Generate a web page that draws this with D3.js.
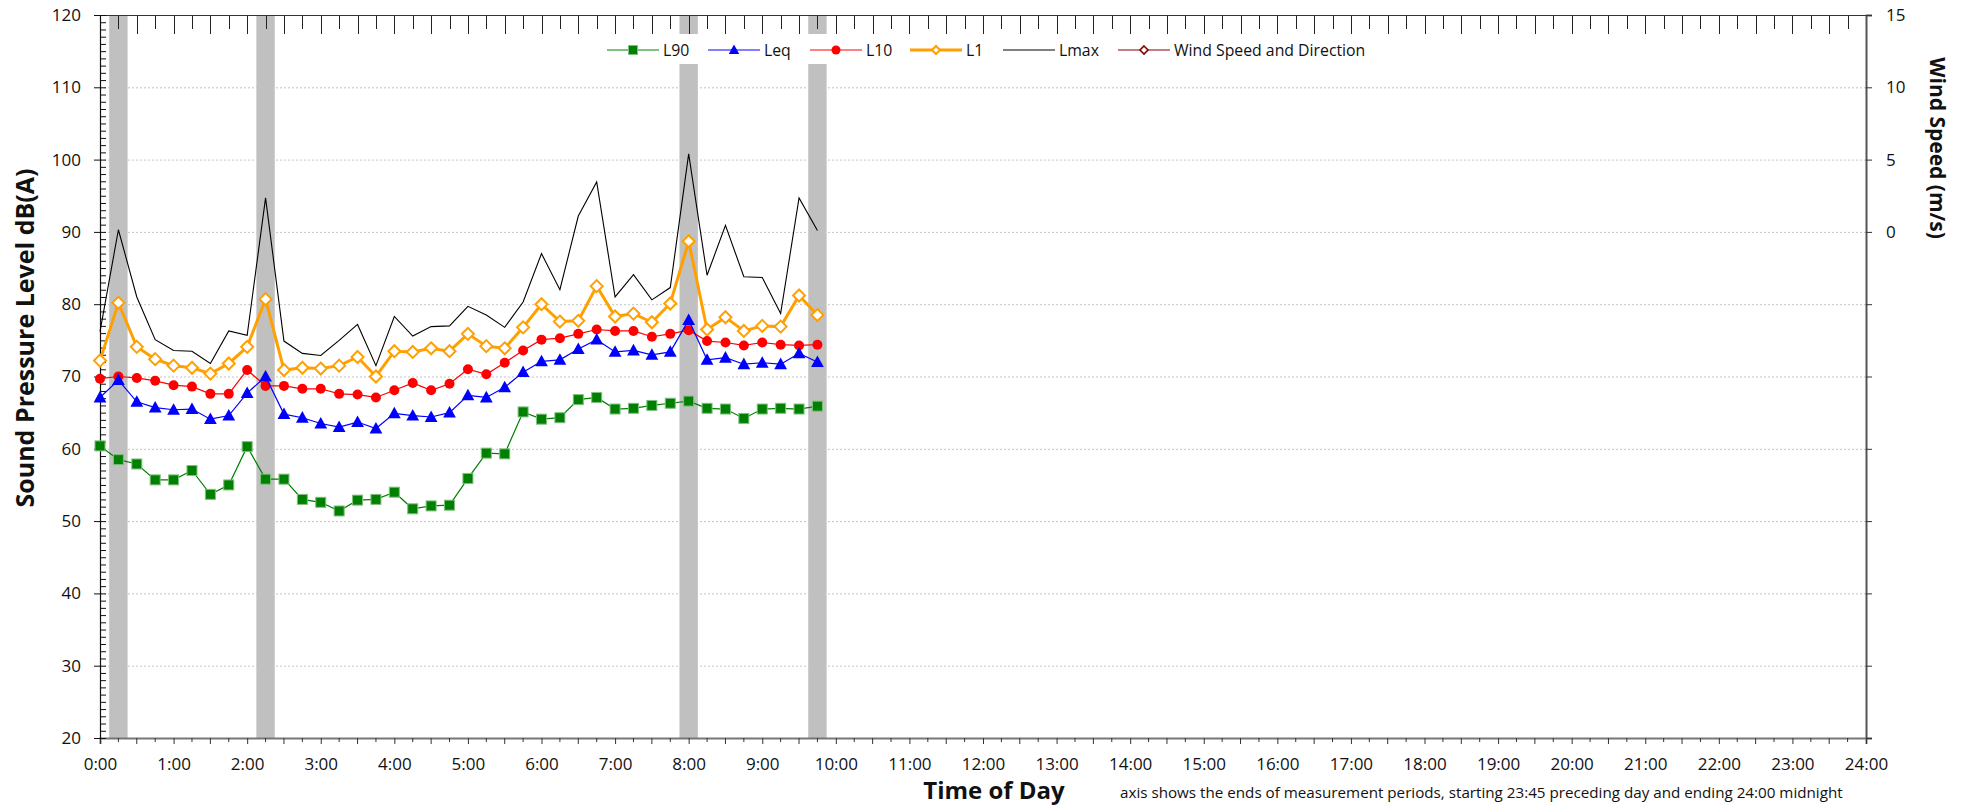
<!DOCTYPE html>
<html>
<head>
<meta charset="utf-8">
<script src="https://cdn.jsdelivr.net/npm/d3@7"></script>
<style>
  html, body { margin: 0; padding: 0; background: #fff; }
  svg { display: block; font-family: "Open Sans", "Noto Sans", sans-serif; }
</style>
</head>
<body>
<svg id="chart" width="1969" height="808"></svg>
<script>
// Measurement period end times (15-minute intervals)
const times = ["0:00","0:15","0:30","0:45","1:00","1:15","1:30","1:45","2:00","2:15",
  "2:30","2:45","3:00","3:15","3:30","3:45","4:00","4:15","4:30","4:45",
  "5:00","5:15","5:30","5:45","6:00","6:15","6:30","6:45","7:00","7:15",
  "7:30","7:45","8:00","8:15","8:30","8:45","9:00","9:15","9:30","9:45"];

// Sound pressure levels, dB(A)
const L90 = [60.4,58.5,57.9,55.7,55.7,57.0,53.7,55.0,60.3,55.8,
  55.8,53.0,52.6,51.4,52.9,53.0,54.0,51.7,52.1,52.2,
  55.9,59.4,59.3,65.1,64.1,64.3,66.8,67.1,65.5,65.6,
  66.0,66.3,66.6,65.6,65.5,64.2,65.5,65.6,65.5,65.9];
const Leq = [67.1,69.5,66.5,65.7,65.4,65.5,64.1,64.6,67.7,70.0,
  64.8,64.3,63.5,63.0,63.7,62.8,64.9,64.6,64.4,65.0,
  67.4,67.1,68.5,70.6,72.1,72.3,73.8,75.1,73.4,73.6,
  73.0,73.4,77.8,72.3,72.6,71.7,71.9,71.7,73.2,72.0];
const L10 = [69.7,70.0,69.8,69.4,68.8,68.6,67.6,67.6,70.9,68.7,
  68.7,68.3,68.3,67.6,67.5,67.1,68.1,69.1,68.1,69.0,
  71.0,70.3,71.9,73.6,75.1,75.3,75.9,76.5,76.3,76.3,
  75.5,75.9,76.4,74.9,74.7,74.3,74.7,74.4,74.3,74.4];
const L1 = [72.2,80.2,74.1,72.4,71.5,71.2,70.4,71.8,74.1,80.7,
  70.9,71.2,71.1,71.5,72.7,70.0,73.5,73.4,73.9,73.5,
  75.9,74.2,73.9,76.8,80.0,77.6,77.7,82.5,78.3,78.7,
  77.5,80.1,88.7,76.5,78.2,76.3,77.0,76.9,81.2,78.5];
const Lmax = [76.2,90.3,81.0,75.1,73.6,73.5,71.8,76.3,75.7,94.7,
  74.9,73.2,72.9,75.0,77.2,71.5,78.3,75.6,76.9,77.0,
  79.7,78.5,76.8,80.3,87.0,82.0,92.2,96.9,81.0,84.1,
  80.6,82.3,100.8,84.0,90.9,83.8,83.7,78.7,94.7,90.2];

// Periods flagged with grey shading
const flaggedTimes = ["0:15","2:15","8:00","9:45"];

// Axis tick values
const hourTicks = ["0:00","1:00","2:00","3:00","4:00","5:00","6:00","7:00","8:00","9:00",
  "10:00","11:00","12:00","13:00","14:00","15:00","16:00","17:00","18:00","19:00",
  "20:00","21:00","22:00","23:00","24:00"];
const splTicks = [20,30,40,50,60,70,80,90,100,110,120];
const windTicks = [-35,-30,-25,-20,-15,-10,-5,0,5,10,15];

const legendNames = ["L90","Leq","L10","L1","Lmax","Wind Speed and Direction"];

// ---------------------------------------------------------------
const toHours = s => { const [h, m] = s.split(":").map(Number); return h + m / 60; };

const svg = d3.select("#chart");
const plotLeft = 100, plotRight = 1866, plotTop = 15, plotBottom = 738;

const x = d3.scaleLinear().domain([0, 24]).range([plotLeft, plotRight]);
const y = d3.scaleLinear().domain([20, 120]).range([plotBottom, plotTop]);
const y2 = d3.scaleLinear().domain([-35, 15]).range([plotBottom, plotTop]);

// Shaded periods (centered on the period end, 15 min wide)
svg.append("g").selectAll("rect").data(flaggedTimes).join("rect")
  .attr("x", d => x(toHours(d) - 0.125))
  .attr("width", d => x(toHours(d) + 0.125) - x(toHours(d) - 0.125))
  .attr("y", plotTop).attr("height", plotBottom - plotTop)
  .attr("fill", "#c0c0c0");

// Horizontal gridlines
svg.append("g").selectAll("line").data(splTicks.filter(v => v > 20 && v < 120)).join("line")
  .attr("x1", plotLeft).attr("x2", plotRight)
  .attr("y1", d => y(d) + 0.5).attr("y2", d => y(d) + 0.5)
  .attr("stroke", "#c4c4c4").attr("stroke-width", 1).attr("stroke-dasharray", "2,2");

// Top frame ticks: every 15 min, longer at half hours
const quarterTicks = d3.range(0, 24.001, 0.25);
const isHalf = d => Math.abs(d * 2 - Math.round(d * 2)) < 1e-6;
svg.append("g").selectAll("line").data(quarterTicks.filter(h => h > 0 && h < 24)).join("line")
  .attr("x1", d => Math.round(x(d)) + 0.5).attr("x2", d => Math.round(x(d)) + 0.5)
  .attr("y1", plotTop).attr("y2", d => plotTop + (isHalf(d) ? 19 : 14))
  .attr("stroke", "#222").attr("stroke-width", 1);

// Top frame line
svg.append("line").attr("x1", plotLeft).attr("x2", plotRight)
  .attr("y1", plotTop + 0.5).attr("y2", plotTop + 0.5)
  .attr("stroke", "#333").attr("stroke-width", 1.2);

// Bottom axis
const xAxis = d3.axisBottom(x)
  .tickValues(hourTicks.map(toHours))
  .tickFormat((d, i) => hourTicks[i])
  .tickSize(6).tickPadding(14);
const gx = svg.append("g").attr("transform", `translate(0,${plotBottom})`).call(xAxis);
gx.select(".domain").attr("stroke", "#777").attr("stroke-width", 2);
gx.selectAll(".tick line").attr("stroke", "#333");
gx.selectAll("text").attr("font-size", 17).attr("fill", "#111")
  .attr("font-family", "'Open Sans', sans-serif");
// minor quarter-hour ticks on bottom axis
svg.append("g").selectAll("line").data(quarterTicks.filter(h => Math.abs(h - Math.round(h)) > 1e-6)).join("line")
  .attr("x1", d => x(d)).attr("x2", d => x(d))
  .attr("y1", plotBottom).attr("y2", d => plotBottom + (isHalf(d) ? 6 : 4))
  .attr("stroke", "#333");

// Left axis
const yAxis = d3.axisLeft(y).tickValues(splTicks).tickSize(6).tickPadding(13);
const gy = svg.append("g").attr("transform", `translate(${plotLeft},0)`).call(yAxis);
gy.select(".domain").attr("stroke", "#111").attr("stroke-width", 1.2);
gy.selectAll(".tick line").attr("stroke", "#111").attr("x2", -6).attr("x1", 6);
gy.selectAll("text").attr("font-size", 17).attr("fill", "#111")
  .attr("font-family", "'Open Sans', sans-serif");
// minor 1 dB ticks pointing inward
svg.append("g").selectAll("line").data(d3.range(21, 120).filter(v => v % 10 !== 0)).join("line")
  .attr("x1", plotLeft).attr("x2", plotLeft + 6)
  .attr("y1", d => y(d) + 0.5).attr("y2", d => y(d) + 0.5)
  .attr("stroke", "#111");

// Right (wind speed) axis
const yAxis2 = d3.axisRight(y2).tickValues(windTicks)
  .tickFormat(d => d >= 0 ? d : "").tickSize(6).tickPadding(14);
const gy2 = svg.append("g").attr("transform", `translate(${plotRight},0)`).call(yAxis2);
gy2.select(".domain").attr("stroke", "#555").attr("stroke-width", 2);
gy2.selectAll(".tick line").attr("stroke", "#333");
gy2.selectAll("text").attr("font-size", 17).attr("fill", "#111")
  .attr("font-family", "'Open Sans', sans-serif");

// Series definitions
const series = [
  { name: "L90", values: L90, color: "#008000", width: 1.2, marker: "square" },
  { name: "Leq", values: Leq, color: "#0000ff", width: 1.2, marker: "triangle" },
  { name: "L10", values: L10, color: "#ff0000", width: 1.2, marker: "circle" },
  { name: "L1", values: L1, color: "#ffa000", width: 3, marker: "diamond" },
  { name: "Lmax", values: Lmax, color: "#000000", width: 1.1, marker: null }
];

const line = d3.line().x(d => x(d.t)).y(d => y(d.v));

function drawMarker(sel, kind, color, size) {
  if (kind === "square") {
    sel.append("rect").attr("x", -size / 2).attr("y", -size / 2)
      .attr("width", size).attr("height", size)
      .attr("fill", color).attr("stroke", "#7fbf7f").attr("stroke-width", 1);
  } else if (kind === "triangle") {
    const h = size;
    sel.append("path").attr("d", `M0,${-h * 0.6}L${h * 0.58},${h * 0.45}L${-h * 0.58},${h * 0.45}Z`)
      .attr("fill", color);
  } else if (kind === "circle") {
    sel.append("circle").attr("r", size / 2).attr("fill", color);
  } else if (kind === "diamond") {
    const r = size / 2;
    sel.append("path").attr("d", `M0,${-r}L${r},0L0,${r}L${-r},0Z`)
      .attr("fill", "#fff").attr("stroke", color).attr("stroke-width", 2);
  } else if (kind === "diamondRed") {
    const r = size / 2;
    sel.append("path").attr("d", `M0,${-r}L${r},0L0,${r}L${-r},0Z`)
      .attr("fill", "#fff").attr("stroke", color).attr("stroke-width", 1.6);
  }
}

const markerSize = { square: 10, triangle: 11, circle: 10, diamond: 12 };

// Draw order: Lmax underneath, then L1, L10, Leq, L90
[4, 3, 2, 1, 0].forEach(i => {
  const s = series[i];
  const pts = s.values.map((v, j) => ({ t: toHours(times[j]), v }));
  const g = svg.append("g");
  g.append("path").datum(pts).attr("d", line)
    .attr("fill", "none").attr("stroke", s.color).attr("stroke-width", s.width)
    .attr("stroke-linejoin", "miter");
  if (s.marker) {
    g.selectAll("g").data(pts).join("g")
      .attr("transform", d => `translate(${x(d.t)},${y(d.v)})`)
      .each(function () { drawMarker(d3.select(this), s.marker, s.color, markerSize[s.marker]); });
  }
});

// Legend
const legendItems = [
  { name: legendNames[0], color: "#008000", lineColor: "#80c080", marker: "square", w: 2 },
  { name: legendNames[1], color: "#0000ff", lineColor: "#8080ff", marker: "triangle", w: 2 },
  { name: legendNames[2], color: "#ff0000", lineColor: "#ff8080", marker: "circle", w: 2 },
  { name: legendNames[3], color: "#ffa000", lineColor: "#ffa000", marker: "diamond", w: 3 },
  { name: legendNames[4], color: "#000000", lineColor: "#808080", marker: null, w: 2 },
  { name: legendNames[5], color: "#800000", lineColor: "#c08080", marker: "diamondRed", w: 2 }
];
const legendX = [607, 708, 810, 910, 1003, 1118];
const legendY = 50;
svg.append("rect").attr("x", 598).attr("y", 34).attr("width", 785).attr("height", 30).attr("fill", "#fff");
const lg = svg.append("g");
legendItems.forEach((it, i) => {
  const g = lg.append("g").attr("transform", `translate(${legendX[i]},${legendY})`);
  g.append("line").attr("x1", 0).attr("x2", 52).attr("y1", 0).attr("y2", 0)
    .attr("stroke", it.lineColor).attr("stroke-width", it.w);
  if (it.marker) {
    const mg = g.append("g").attr("transform", "translate(26,0)");
    const sz = it.marker === "diamond" || it.marker === "diamondRed" ? 8 : 9;
    drawMarker(mg, it.marker, it.color, sz);
  }
  g.append("text").attr("x", 56).attr("y", 0).attr("dy", "0.35em")
    .attr("font-size", 15.8).attr("fill", "#111").text(it.name);
});

// Axis titles
svg.append("text").attr("transform", `translate(34,338) rotate(-90)`)
  .attr("text-anchor", "middle").attr("font-size", 25).attr("font-weight", 700).attr("fill", "#111")
  .text("Sound Pressure Level dB(A)");
svg.append("text").attr("transform", `translate(1930,148) rotate(90)`)
  .attr("text-anchor", "middle").attr("font-size", 21).attr("font-weight", 700).attr("fill", "#111")
  .text("Wind Speed (m/s)");
svg.append("text").attr("x", 994).attr("y", 799)
  .attr("text-anchor", "middle").attr("font-size", 24).attr("font-weight", 700).attr("fill", "#111")
  .text("Time of Day");
svg.append("text").attr("x", 1120).attr("y", 798)
  .attr("font-size", 15.2).attr("fill", "#111")
  .text("axis shows the ends of measurement periods, starting 23:45 preceding day and ending 24:00 midnight");
</script>
</body>
</html>
